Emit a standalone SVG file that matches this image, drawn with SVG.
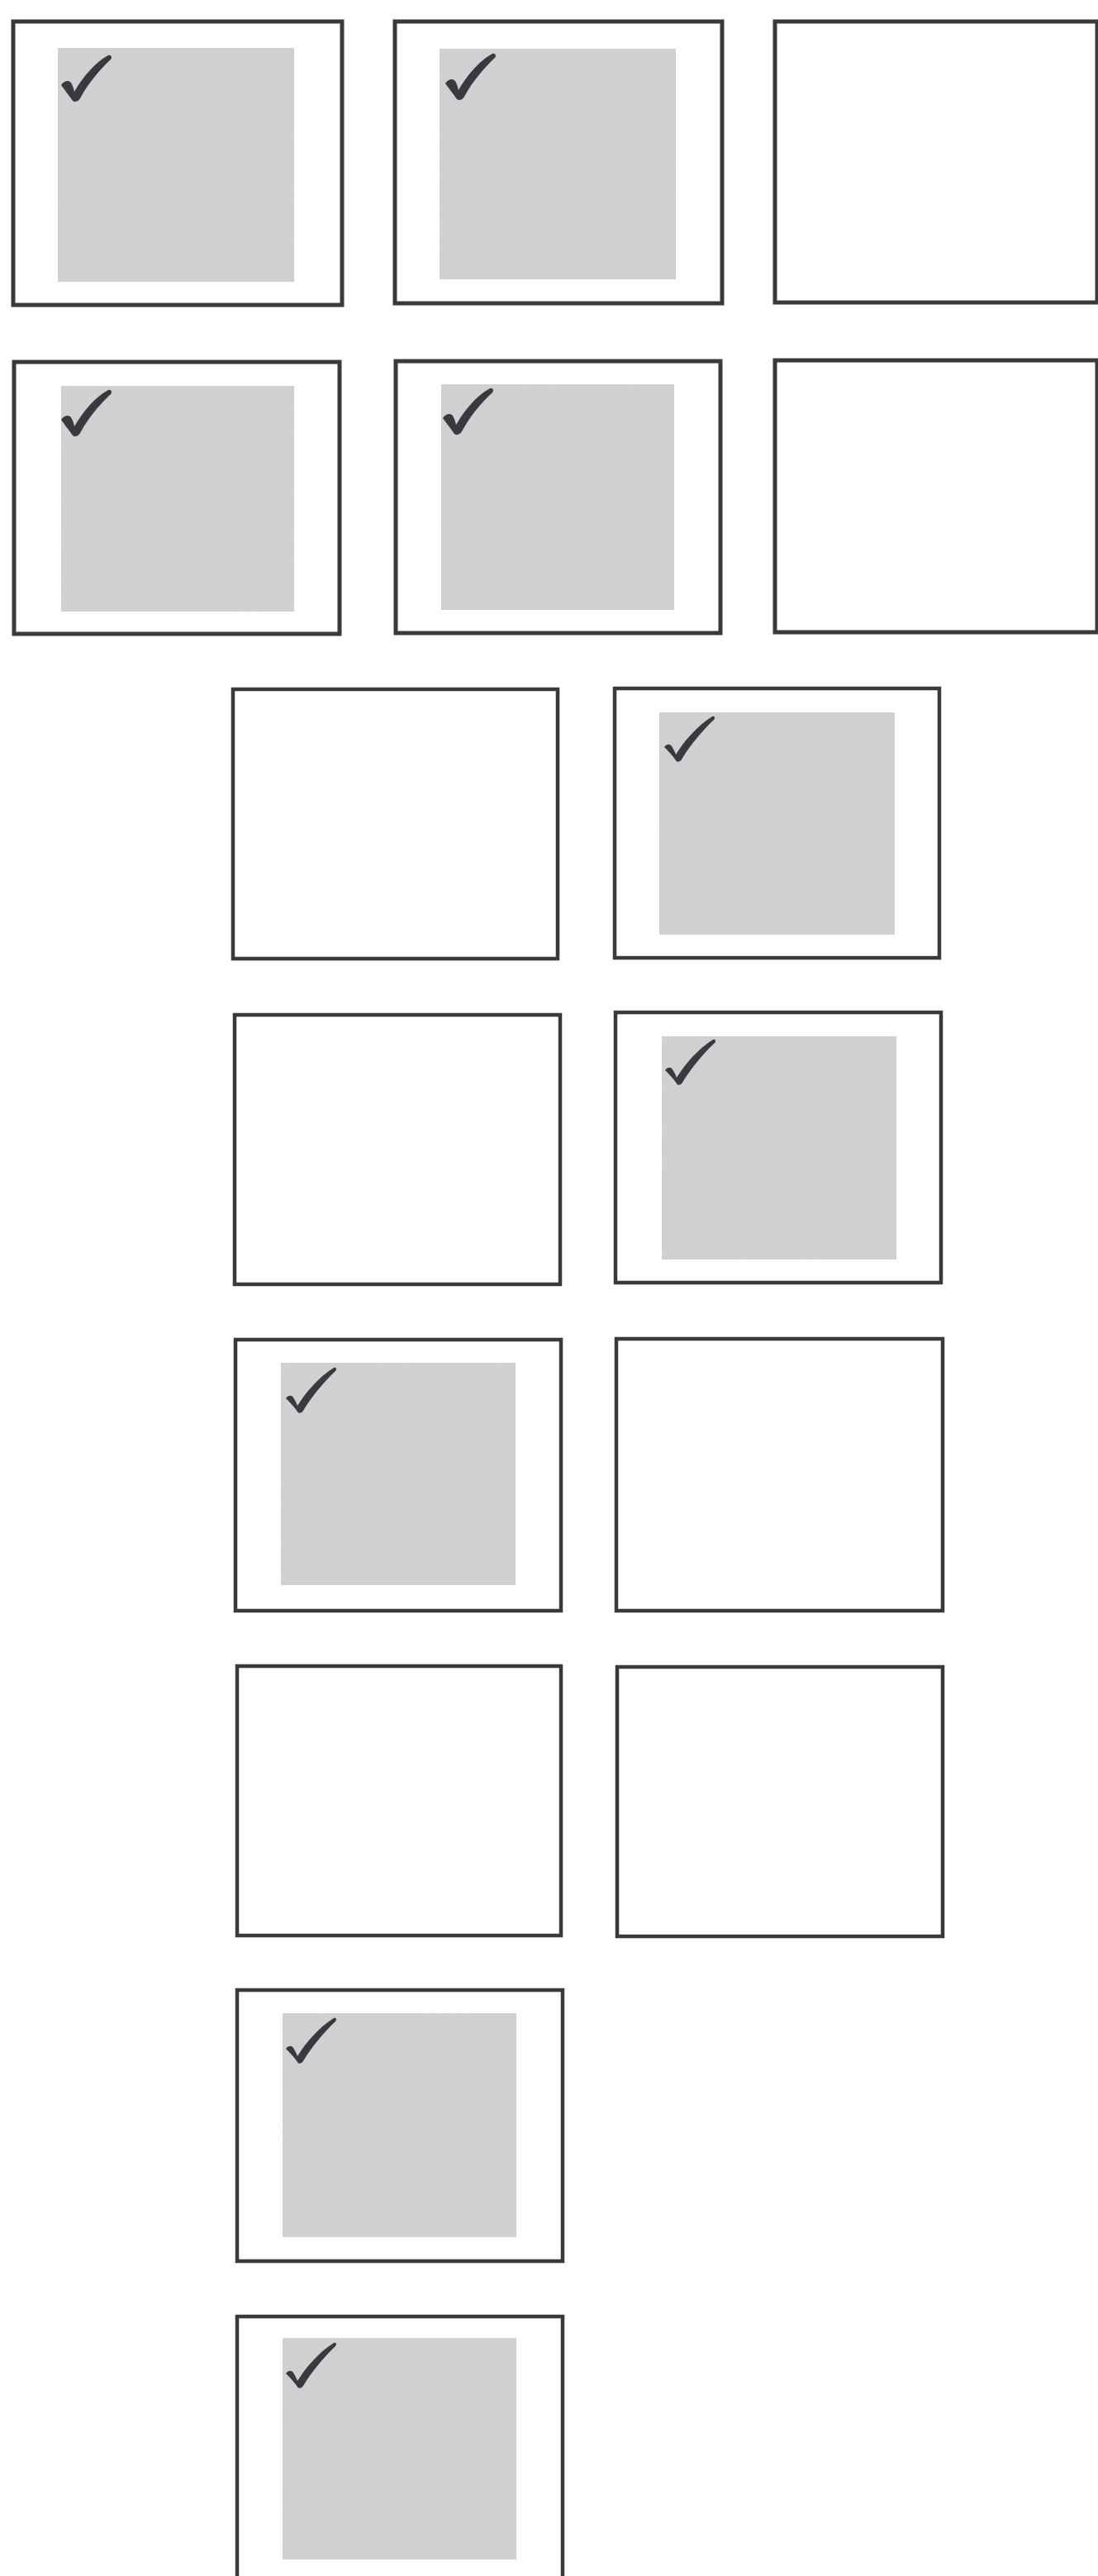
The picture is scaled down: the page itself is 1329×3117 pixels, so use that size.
<svg xmlns="http://www.w3.org/2000/svg" xmlns:xlink="http://www.w3.org/1999/xlink" width="1329" height="3117" viewBox="0 0 1329 3117">
<style>
.box{fill:#fff;stroke:#3a3a3c;stroke-width:4.5}
.big{stroke-width:5}
.shade{fill:#d3d3d5}
.chk{fill:#3a3a3e}
</style>
<defs>
<filter id="grain" x="0" y="0" width="100%" height="100%">
<feTurbulence type="fractalNoise" baseFrequency="0.9" numOctaves="2" seed="3" result="n"/>
<feColorMatrix in="n" type="matrix" values="0 0 0 0 0.55 0 0 0 0 0.55 0 0 0 0 0.57 0 0 0 0.35 0" result="g"/>
<feComposite in="g" in2="SourceGraphic" operator="in" result="gi"/>
<feMerge><feMergeNode in="SourceGraphic"/><feMergeNode in="gi"/></feMerge>
</filter>
<path id="check" class="chk" d="M-2,3 C1,-2 6,-3 9,-1 C11,1 13,6 14,11 C21,-1 36,-23 55,-33 C59,-34 60,-30 58,-28 C47,-18 31,0 21,19 C19,23 14,24 12,22 C8,16 3,10 -2,3 Z"/>
<path id="check2" class="chk" d="M-2,2 C1,-2 5,-2 7,1 C9,4 11,8 12,11 C22,-5 38,-24 56,-35 C59,-36 60,-33 58,-31 C45,-19 29,0 19,17 C17,20 13,21 12,18 C8,12 3,7 -2,2 Z"/>
</defs>
<rect width="1329" height="3117" fill="#fff"/>
<g id="connectors"/>
<g id="r1c1"><rect class="box big" x="16" y="26" width="398" height="343"/><rect class="shade" filter="url(#grain)" x="70" y="58" width="286" height="283"/><use href="#check" x="76" y="100"/></g>
<g id="r1c2"><rect class="box big" x="478" y="26" width="396" height="341"/><rect class="shade" filter="url(#grain)" x="532" y="59" width="286" height="279"/><use href="#check" x="541" y="98"/></g>
<g id="r1c3"><rect class="box big" x="938" y="26" width="390" height="340"/></g>
<g id="r2c1"><rect class="box big" x="17" y="438" width="394" height="329"/><rect class="shade" filter="url(#grain)" x="74" y="467" width="282" height="273"/><use href="#check" x="76" y="505"/></g>
<g id="r2c2"><rect class="box big" x="479" y="437" width="393" height="329"/><rect class="shade" filter="url(#grain)" x="534" y="465" width="282" height="273"/><use href="#check" x="538" y="503"/></g>
<g id="r2c3"><rect class="box big" x="938" y="436" width="390" height="329"/></g>
<g id="r3c1"><rect class="box" x="282" y="834" width="393" height="326"/></g>
<g id="r3c2"><rect class="box" x="744" y="833" width="393" height="326"/><rect class="shade" filter="url(#grain)" x="798" y="862" width="285" height="269"/><use href="#check2" x="806" y="902"/></g>
<g id="r4c1"><rect class="box" x="284" y="1228" width="394" height="326"/></g>
<g id="r4c2"><rect class="box" x="745" y="1225" width="394" height="327"/><rect class="shade" filter="url(#grain)" x="801" y="1254" width="284" height="270"/><use href="#check2" x="807" y="1293"/></g>
<g id="r5c1"><rect class="box" x="285" y="1621" width="394" height="328"/><rect class="shade" filter="url(#grain)" x="340" y="1649" width="284" height="269"/><use href="#check2" x="348" y="1690"/></g>
<g id="r5c2"><rect class="box" x="746" y="1620" width="395" height="329"/></g>
<g id="r6c1"><rect class="box" x="287" y="2016" width="392" height="326"/></g>
<g id="r6c2"><rect class="box" x="747" y="2017" width="394" height="326"/></g>
<g id="r7c1"><rect class="box" x="287" y="2408" width="394" height="328"/><rect class="shade" filter="url(#grain)" x="342" y="2436" width="283" height="271"/><use href="#check2" x="348" y="2477"/></g>
<g id="r8c1"><rect class="box" x="287" y="2803" width="394" height="400"/><rect class="shade" filter="url(#grain)" x="342" y="2829" width="283" height="268"/><use href="#check2" x="348" y="2870"/></g>
</svg>
